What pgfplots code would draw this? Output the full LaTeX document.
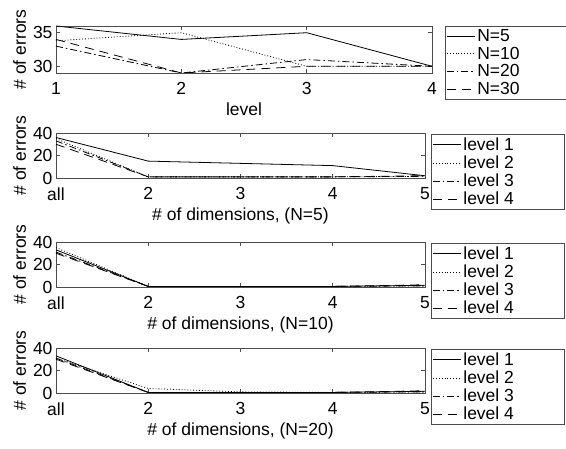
\documentclass[border=0pt]{standalone}
\usepackage{fontspec}
\setmainfont{Liberation Sans}
\usepackage{pgfplots}
\pgfplotsset{compat=1.18}
\newcommand{\ff}{\fontsize{17.5}{19}\selectfont}
\pgfplotsset{
  mystyle/.style={
    scale only axis,
    axis line style={black!70, line width=0.6pt},
    every tick/.style={black!70, line width=0.6pt},
    tick align=inside,
    major tick length=4pt,
    /pgf/number format/assume math mode=true,
    tick label style={font=\ff},
    xticklabel style={yshift=-6pt},
    label style={font=\ff},
    xlabel style={yshift=-1pt},
    ylabel={\# of errors},
    legend cell align=left,
    legend style={font=\ff, draw=black!70, line width=0.6pt, row sep=0pt, inner xsep=1pt, inner ysep=1pt},
    legend image code/.code={\draw[##1] (0pt,0pt) -- (28pt,0pt);},
  },
  l1/.style={black, line width=0.8pt, solid},
  l2/.style={black, line width=0.8pt, dash pattern=on 0.9pt off 2pt},
  l3/.style={black, line width=0.8pt, dash pattern=on 7pt off 3pt on 1.5pt off 3pt},
  l4/.style={black, line width=0.8pt, dash pattern=on 9pt off 6pt},
}
\newcommand{\la}[1]{\makebox[86pt][l]{#1}}
\newcommand{\lb}[1]{\makebox[98pt][l]{#1}}
\begin{document}
\begin{tikzpicture}
\useasboundingbox (0,0) rectangle (566pt,449pt);
% plot 1
\begin{axis}[mystyle, at={(56pt,376pt)}, anchor=south west, width=376pt, height=47pt,
  xmin=1, xmax=4, ymin=29, ymax=36, xtick={1,2,3,4}, ytick={30,35},
  xlabel={level},
  legend style={at={(1.035,1)}, anchor=north west}]
\addplot[l1] coordinates {(1,36) (2,34) (3,35) (4,30)};
\addplot[l2] coordinates {(1,33.8) (2,35) (3,30) (4,30)};
\addplot[l3] coordinates {(1,33) (2,29) (3,31) (4,30)};
\addplot[l4] coordinates {(1,34) (2,29) (3,30) (4,30)};
\legend{\la{N=5},\la{N=10},\la{N=20},\la{N=30}}
\end{axis}
% plot 2
\begin{axis}[mystyle, at={(56pt,271pt)}, anchor=south west, width=369pt, height=45pt,
  xmin=1, xmax=5, ymin=0, ymax=40, xtick={1,2,3,4,5}, xticklabels={all,2,3,4,5}, ytick={0,20,40},
  xlabel={\# of dimensions, (N=5)},
  legend style={at={(1.017,0.97)}, anchor=north west}]
\addplot[l1] coordinates {(1,36) (2,15) (3,13) (4,11) (5,2)};
\addplot[l2] coordinates {(1,35) (2,1) (3,1) (4,1) (5,1.5)};
\addplot[l3] coordinates {(1,33) (2,1) (3,1) (4,1) (5,1.5)};
\addplot[l4] coordinates {(1,30) (2,1) (3,1) (4,1) (5,2)};
\legend{\lb{level 1},\lb{level 2},\lb{level 3},\lb{level 4}}
\end{axis}
% plot 3
\begin{axis}[mystyle, at={(56pt,162pt)}, anchor=south west, width=369pt, height=45pt,
  xmin=1, xmax=5, ymin=0, ymax=40, xtick={1,2,3,4,5}, xticklabels={all,2,3,4,5}, ytick={0,20,40},
  xlabel={\# of dimensions, (N=10)},
  legend style={at={(1.017,0.97)}, anchor=north west}]
\addplot[l1] coordinates {(1,33) (2,0.5) (3,0.5) (4,0.5) (5,1.5)};
\addplot[l2] coordinates {(1,35) (2,0.5) (3,0.5) (4,0.5) (5,1)};
\addplot[l3] coordinates {(1,31) (2,0.5) (3,0.5) (4,0.5) (5,1)};
\addplot[l4] coordinates {(1,30) (2,0.5) (3,0.5) (4,0.5) (5,2)};
\legend{\lb{level 1},\lb{level 2},\lb{level 3},\lb{level 4}}
\end{axis}
% plot 4
\begin{axis}[mystyle, at={(56pt,56pt)}, anchor=south west, width=369pt, height=45pt,
  xmin=1, xmax=5, ymin=0, ymax=40, xtick={1,2,3,4,5}, xticklabels={all,2,3,4,5}, ytick={0,20,40},
  xlabel={\# of dimensions, (N=20)},
  legend style={at={(1.017,0.97)}, anchor=north west}]
\addplot[l1] coordinates {(1,33) (2,0.5) (3,0.5) (4,0.5) (5,1.5)};
\addplot[l2] coordinates {(1,31) (2,4) (3,1) (4,0.5) (5,1)};
\addplot[l3] coordinates {(1,31) (2,0.5) (3,0.5) (4,0.5) (5,1)};
\addplot[l4] coordinates {(1,30) (2,0.5) (3,0.5) (4,0.5) (5,2)};
\legend{\lb{level 1},\lb{level 2},\lb{level 3},\lb{level 4}}
\end{axis}
\end{tikzpicture}
\end{document}
